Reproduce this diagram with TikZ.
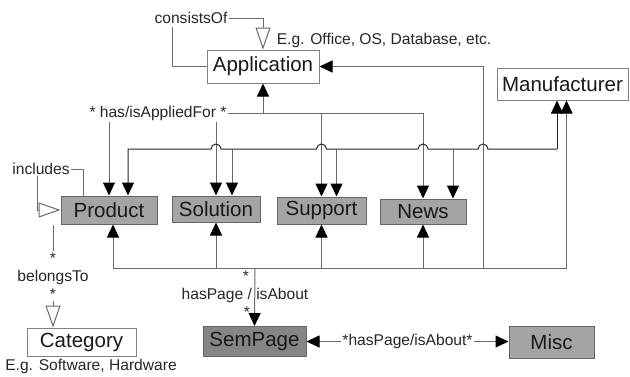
\documentclass[tikz,border=0pt]{standalone}
\usepackage{fontspec}
\setmainfont{Liberation Sans}
\usetikzlibrary{arrows.meta,calc}

\definecolor{boxgray}{HTML}{A4A4A4}
\definecolor{pagegray}{HTML}{858585}
\definecolor{wiregray}{HTML}{6A6A6A}

\tikzset{
	wire/.style={line width=0.5pt, color=wiregray},
	tip/.style={Triangle[length=6.5pt,width=6pt,color=black]},
	fwd/.style={wire, -{Triangle[length=6.5pt,width=6pt,color=black]}},
	both/.style={wire, {Triangle[length=6.5pt,width=6pt,color=black]}-{Triangle[length=6.5pt,width=6pt,color=black]}},
	isa/.style={wire, -{Triangle[open,length=11pt,width=7.5pt]}},
	cls/.style={draw=black!50, line width=0.5pt, fill=white, inner sep=0pt, text=black!90, font=\fontsize{10.25}{12}\selectfont},
	item/.style={cls, fill=boxgray, draw=black!60},
	lbl/.style={inner sep=0.5pt, text=black!85, font=\fontsize{7.8}{9}\selectfont},
	hop/.style={insert path={-- ($(#1 |- mtap)+(5,0)$) arc[start angle=0, end angle=-180, radius=5]}}
}

\begin{document}
\begin{tikzpicture}[x=0.5pt, y=-0.5pt]
		%%%%% START %%%%%
		\useasboundingbox (0, 0) rectangle (630, 376);
		
		\node[cls, minimum width=56pt, minimum height=16.5pt] (app) at (263, 66.5) {Application};
		\node[cls, minimum width=65.5pt, minimum height=16pt] (manu) at (562.5, 84) {Manufacturer};
		\node[item, minimum width=48pt, minimum height=14pt] (prod) at (109, 210) {Product};
		\node[item, minimum width=44pt, minimum height=13pt] (sol) at (216, 209) {Solution};
		\node[item, minimum width=44.5pt, minimum height=13.5pt] (sup) at (321.5, 210.5) {Support};
		\node[item, minimum width=43pt, minimum height=12.5pt] (news) at (423, 211.5) {News};
		\node[cls, minimum width=54.5pt, minimum height=14pt] (cat) at (81.5, 342) {Category};
		\node[item, fill=pagegray, minimum width=51.5pt, minimum height=15pt] (sem) at (254.5, 341.5) {SemPage};
		\node[item, minimum width=42.5pt, minimum height=16pt] (misc) at (551.5, 342) {Misc};
		
		\node[lbl] (cons) at (191, 18) {consistsOf};
		\node[lbl] (eg1) at (384, 40) {E.g. Office, OS, Database, etc.};
		\node[lbl] (apply) at (158, 113) {* has/isAppliedFor *};
		\node[lbl] (inc) at (41, 169) {includes};
		\node[lbl] (belA) at (53, 258) {*};
		\node[lbl] (bel) at (53, 277) {belongsTo};
		\node[lbl] (belB) at (53, 294) {*};
		\node[lbl] (eg2) at (91, 366) {E.g. Software, Hardware};
		\node[lbl] (semA) at (246, 276) {*};
		\node[lbl] (semlbl) at (245, 295) {hasPage / isAbout};
		\node[lbl] (semB) at (247, 312) {*};
		
		\coordinate (consL) at (172, 27);
		\coordinate (mtap) at (557, 149);
		\coordinate (hub) at (255, 268);
		\coordinate (apptap) at (483, 66.5);
		
		% consistsOf
		\draw[wire] (app.west) -| (consL);
		\draw[isa] (cons.east) -| (app.north);
		
		% has/isAppliedFor
		\draw[fwd] (apply.east) -| (app.south);
		\draw[wire] (apply.east) -- (apply.east -| news.north);
		\draw[fwd] (apply.south -| prod.north) -- (prod.north);
		\draw[fwd] (apply.south -| sol.north) -- (sol.north);
		\draw[fwd] (apply.east -| sup.north) -- (sup.north);
		\draw[fwd] (apply.east -| news.north) -- (news.north);
		
		% manufacturer
		\draw[fwd, color=black!85] (mtap) -- (mtap |- manu.south);
		\draw[fwd, color=black!85] (mtap) [hop=apptap] [hop=news] [hop=sup] [hop=sol] -- ([xshift=9.5pt]prod.north |- mtap) -- ([xshift=9.5pt]prod.north);
		\draw[fwd] ([xshift=8pt]sol.north |- mtap) -- ([xshift=8pt]sol.north);
		\draw[fwd] ([xshift=7.5pt]sup.north |- mtap) -- ([xshift=7.5pt]sup.north);
		\draw[fwd] ([xshift=15pt]news.north |- mtap) -- ([xshift=15pt]news.north);
		
		% hasPage / isAbout
		\draw[fwd] (hub) -- (sem.north);
		\draw[fwd] (hub) -| ([xshift=2pt]prod.south);
		\draw[fwd] (hub) -| (sol.south);
		\draw[fwd] (hub) -| (sup.south);
		\draw[fwd] (hub) -| (news.south);
		\draw[fwd] (hub) -| (apptap) -- (app.east);
		\draw[fwd] (hub) -| ([xshift=2pt]manu.south);
		
		% includes, belongsTo
		\draw[wire] (inc.east) -| ([xshift=-13pt]prod.north);
		\draw[isa] ([xshift=-2pt]inc.south) |- (prod.west);
		\draw[wire] ([xshift=-28pt]prod.south) -- (belA.north);
		\draw[isa] (belB.south) -- (belB.south |- cat.north);
		
		\draw[both] (sem.east) -- (sem.east -| misc.west) node[lbl, midway, fill=white] (semmisc) {*hasPage/isAbout*};
		%%%%% END %%%%%
	\end{tikzpicture}
\end{document}
